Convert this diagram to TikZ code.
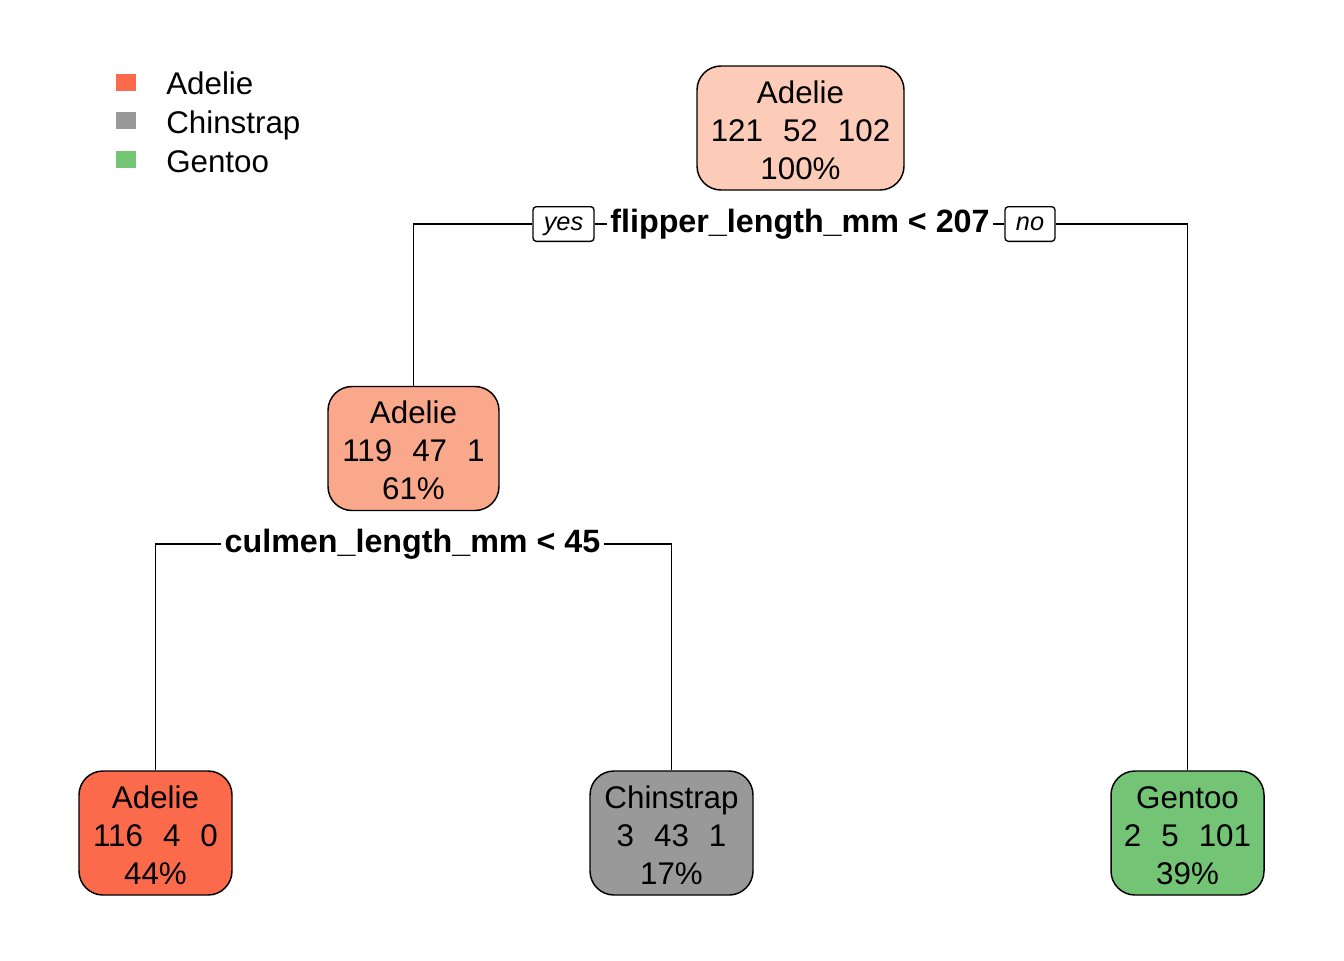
\documentclass[tikz,border=0pt]{standalone}
\usepackage{fontspec}
\setmainfont{Liberation Sans}
\definecolor{cRoot}{RGB}{252,204,184}
\definecolor{cMid}{RGB}{250,168,139}
\definecolor{cAdelie}{RGB}{251,106,74}
\definecolor{cChin}{RGB}{153,153,153}
\definecolor{cGentoo}{RGB}{116,196,118}
\newcommand{\gp}{\hspace{0.64em}}
\newcommand{\topst}{\rule{0pt}{20pt}}
\tikzset{
  treenode/.style={draw=black, line width=1.1pt, rounded corners=18pt, align=center,
    inner sep=0pt, minimum height=93pt,
    font=\fontsize{23.5}{28.5}\selectfont},
  splitlab/.style={inner xsep=2.5pt, inner ysep=1pt, font=\fontsize{24.2}{28.5}\selectfont\bfseries},
  yesno/.style={draw=black, line width=1pt, rounded corners=2.5pt, inner sep=0pt,
    text depth=0pt, minimum height=26pt, font=\fontsize{19}{22}\selectfont\itshape},
  conn/.style={line width=1pt, black},
  legsq/.style={inner sep=0pt, minimum width=15pt, minimum height=12.75pt},
  legtxt/.style={anchor=base west, inner sep=0pt, font=\fontsize{23.5}{28.5}\selectfont}
}
\begin{document}
\begin{tikzpicture}[x=0.75pt,y=-0.75pt]
\useasboundingbox[fill=white] (0,0) rectangle (1344,960);
% legend
\node[legsq, fill=cAdelie] (lq1) at (125.5,82.5) {};
\node[legsq, fill=cChin] (lq2) at (125.5,120.5) {};
\node[legsq, fill=cGentoo] (lq3) at (125.5,159.5) {};
\node[legtxt] (lt1) at (166,94.5) {Adelie};
\node[legtxt] (lt2) at (166,133) {Chinstrap};
\node[legtxt] (lt3) at (166,172) {Gentoo};
% nodes
\node[treenode, fill=cRoot, minimum width=155.25pt] (root) at (800.5,128) {\topst Adelie\\121\gp 52\gp 102\\100\%};
\node[treenode, fill=cMid, minimum width=128.25pt] (mid) at (413.5,448.5) {\topst Adelie\\119\gp 47\gp 1\\61\%};
\node[treenode, fill=cAdelie, minimum width=114.75pt] (l1) at (155.5,833) {\topst Adelie\\116\gp 4\gp 0\\44\%};
\node[treenode, fill=cChin, minimum width=122.25pt] (l2) at (671.5,833) {\topst Chinstrap\\3\gp 43\gp 1\\17\%};
\node[treenode, fill=cGentoo, minimum width=114.75pt] (l3) at (1187.5,833) {\topst Gentoo\\2\gp 5\gp 101\\39\%};
% split labels
\node[splitlab] (s1) at (800,224) {flipper\_length\_mm < 207};
\node[splitlab] (s2) at (412.5,544) {culmen\_length\_mm < 45};
\node[yesno, minimum width=45.75pt] (yes) at (563.5,224) {yes};
\node[yesno, minimum width=37.5pt] (no) at (1030,224) {no};
% connectors
\draw[conn] (mid.north) |- (yes.west);
\draw[conn] (yes.east) -- (s1.west);
\draw[conn] (s1.east) -- (no.west);
\draw[conn] (no.east) -| (l3.north);
\draw[conn] (s2.west) -| (l1.north);
\draw[conn] (s2.east) -| (l2.north);
\end{tikzpicture}
\end{document}
